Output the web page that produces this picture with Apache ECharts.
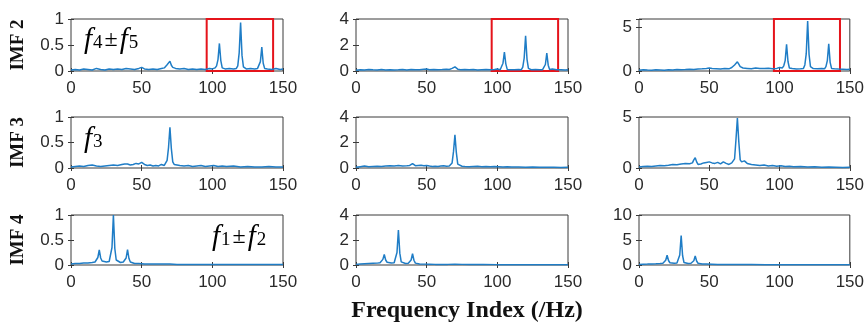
<!DOCTYPE html>
<html>
<head>
<meta charset="utf-8">
<script src="https://cdn.jsdelivr.net/npm/echarts@6/dist/echarts.min.js"></script>
<style>html,body{margin:0;padding:0;background:#fff;}#c{width:867px;height:326px;}</style>
</head>
<body>
<div id="c"></div>
<script>
// Frequency grids (Hz) per row
const freqIMF2 = [0,3,6,9,12,15,18,21,24,27,30,33,36,39,42,45,48,50,52,55,58,61,64,66,68,69,70,71,72,74,77,80,83,86,89,92,95,98,100,102,103,104,105,106,107,109,112,115,117,118,119,120,121,122,124,127,130,132,133,134,135,136,137,139,142,145,148,150];
const freqIMF3 = [0,3,6,9,12,15,18,21,24,27,30,33,36,38,39,40,41,42,44,46,48,50,52,54,56,58,60,62,64,66,67,68,69,70,71,72,73,75,77,80,83,86,89,92,95,98,101,104,107,110,115,120,125,130,135,140,145,150];
const freqIMF4 = [0,3,6,9,12,15,17,18,19,20,21,22,23,25,27,28,29,30,31,32,33,35,37,38,39,40,41,42,43,45,48,52,56,60,65,70,75,80,90,100,110,120,130,140,150];

// Spectrum amplitudes
const imf2a = [0.02,0.03,0.02,0.04,0.03,0.02,0.05,0.03,0.02,0.04, 0.03,0.04,0.03,0.05,0.04,0.03,0.05,0.07,0.04,0.03, 0.04,0.03,0.05,0.06,0.12,0.10,0.19,0.11,0.07,0.05, 0.04,0.05,0.03,0.04,0.03,0.04,0.03,0.05,0.04,0.06, 0.10,0.22,0.53,0.20,0.06,0.04,0.05,0.04,0.05,0.10, 0.35,0.93,0.30,0.08,0.04,0.05,0.04,0.05,0.08,0.18, 0.46,0.15,0.05,0.04,0.03,0.05,0.03,0.04];
const imf2b = [0.05,0.10,0.08,0.12,0.09,0.07,0.11,0.08,0.10,0.07, 0.09,0.12,0.08,0.11,0.10,0.09,0.13,0.15,0.10,0.12, 0.09,0.11,0.14,0.12,0.20,0.18,0.32,0.20,0.14,0.10, 0.12,0.09,0.11,0.08,0.10,0.12,0.09,0.11,0.15,0.10, 0.25,0.60,1.46,0.55,0.12,0.10,0.09,0.11,0.10,0.30, 1.00,2.70,0.90,0.20,0.10,0.12,0.09,0.10,0.20,0.50, 1.38,0.45,0.12,0.15,0.09,0.10,0.08,0.10];
const imf2c = [0.10,0.15,0.12,0.10,0.14,0.12,0.10,0.15,0.12,0.18, 0.14,0.16,0.20,0.18,0.22,0.25,0.30,0.35,0.28,0.25, 0.22,0.30,0.25,0.40,0.70,0.85,1.06,0.80,0.50,0.35, 0.30,0.25,0.35,0.28,0.30,0.32,0.25,0.30,0.40,0.35, 0.60,1.20,3.07,1.10,0.35,0.28,0.22,0.25,0.30,0.70, 2.00,5.76,1.90,0.50,0.28,0.25,0.30,0.25,0.50,1.20, 3.15,1.00,0.30,0.25,0.22,0.20,0.18,0.20];

const imf3a = [0.02,0.03,0.04,0.03,0.05,0.06,0.04,0.03,0.04,0.05, 0.06,0.05,0.07,0.08,0.11,0.08,0.10,0.06,0.07,0.09, 0.08,0.11,0.07,0.05,0.06,0.04,0.05,0.04,0.07,0.05, 0.08,0.15,0.40,0.80,0.38,0.12,0.07,0.06,0.05,0.04, 0.05,0.03,0.04,0.05,0.03,0.04,0.05,0.03,0.04,0.03, 0.04,0.02,0.03,0.02,0.02,0.03,0.02,0.02];
const imf3b = [0.05,0.10,0.15,0.10,0.12,0.14,0.12,0.15,0.18,0.15, 0.20,0.16,0.18,0.20,0.28,0.35,0.22,0.18,0.20,0.22, 0.18,0.20,0.15,0.12,0.14,0.12,0.15,0.18,0.14,0.16, 0.20,0.40,1.30,2.60,1.20,0.30,0.15,0.14,0.12,0.10, 0.12,0.14,0.10,0.12,0.09,0.11,0.10,0.08,0.10,0.07, 0.08,0.06,0.07,0.05,0.06,0.05,0.04,0.05];
const imf3c = [0.10,0.15,0.18,0.15,0.20,0.25,0.22,0.28,0.35,0.32, 0.40,0.45,0.42,0.50,0.80,1.00,0.60,0.35,0.40,0.50, 0.55,0.60,0.50,0.45,0.55,0.40,0.60,0.45,0.35,0.50, 0.60,0.90,2.80,4.90,2.60,0.80,0.60,0.70,0.45,0.35, 0.30,0.25,0.30,0.20,0.25,0.18,0.22,0.15,0.18,0.12, 0.15,0.10,0.12,0.08,0.10,0.08,0.06,0.08];

const imf4a = [0.02,0.03,0.03,0.04,0.04,0.05,0.06,0.08,0.15,0.30, 0.14,0.08,0.07,0.06,0.07,0.10,0.35,1.00,0.33,0.10, 0.06,0.05,0.06,0.08,0.14,0.31,0.13,0.06,0.04,0.03, 0.03,0.02,0.02,0.02,0.02,0.02,0.01,0.01,0.01,0.01, 0.01,0.01,0.01,0.01,0.01];
const imf4b = [0.05,0.08,0.10,0.12,0.14,0.15,0.18,0.25,0.45,0.84, 0.40,0.22,0.20,0.16,0.18,0.30,1.00,2.80,0.95,0.25, 0.15,0.12,0.14,0.22,0.40,0.90,0.38,0.15,0.10,0.08, 0.07,0.06,0.05,0.05,0.05,0.06,0.05,0.04,0.04,0.03, 0.03,0.03,0.03,0.03,0.03];
const imf4c = [0.10,0.15,0.18,0.22,0.25,0.30,0.35,0.50,0.95,1.96, 0.90,0.45,0.40,0.35,0.40,0.70,2.00,5.90,1.90,0.50, 0.35,0.30,0.35,0.50,0.85,1.80,0.80,0.35,0.25,0.20, 0.18,0.15,0.12,0.12,0.10,0.10,0.08,0.08,0.07,0.06, 0.06,0.05,0.05,0.05,0.05];

// Axis settings
const rowLabels = ['IMF 2', 'IMF 3', 'IMF 4'];
const yMaxes = [[1, 4, 6], [1, 4, 5], [1, 4, 10]];
const ySteps = [[0.5, 2, 5], [0.5, 2, 5], [0.5, 2, 5]];
const xMin = 0, xMax = 150, xStep = 50;
const boxRange = [96, 143];
const xTitle = 'Frequency Index (/Hz)';

const freqs = [freqIMF2, freqIMF3, freqIMF4];
const amps = [[imf2a, imf2b, imf2c], [imf3a, imf3b, imf3c], [imf4a, imf4b, imf4c]];

// Layout
const lefts = [71, 356, 639], widths = [212, 212, 214];
const tops = [19, 117, 215], heights = [52, 51, 50];

const ink = '#2a2a2a';
const lineColor = '#1f7dc6';
const grids = [], xAxes = [], yAxes = [], series = [];
let g = 0;
for (let r = 0; r < 3; r++) {
  for (let c = 0; c < 3; c++) {
    grids.push({left: lefts[c], top: tops[r], width: widths[c], height: heights[r],
      show: true, borderColor: '#3a3a3a', borderWidth: 1, containLabel: false});
    const ymax = yMaxes[r][c], ystep = ySteps[r][c];
    const tickBase = {show: true, inside: true, length: 3, lineStyle: {color: '#3a3a3a'}};
    xAxes.push({type: 'value', gridIndex: g, min: xMin, max: xMax, interval: xStep, position: 'bottom',
      axisLine: {show: false}, axisTick: tickBase, splitLine: {show: false},
      axisLabel: {color: ink, fontSize: 17, fontFamily: 'Liberation Sans', margin: 9}});
    xAxes.push({type: 'value', gridIndex: g, min: xMin, max: xMax, interval: xStep, position: 'top',
      axisLine: {show: false}, axisTick: tickBase, splitLine: {show: false}, axisLabel: {show: false}});
    yAxes.push({type: 'value', gridIndex: g, min: 0, max: ymax, interval: ystep, position: 'left',
      axisLine: {show: false}, axisTick: tickBase, splitLine: {show: false},
      axisLabel: {color: ink, fontSize: 17, fontFamily: 'Liberation Sans', margin: 7,
        formatter: v => (Math.abs(v / ystep - Math.round(v / ystep)) < 1e-6 ? String(v) : '')}});
    yAxes.push({type: 'value', gridIndex: g, min: 0, max: ymax, interval: ystep, position: 'right',
      axisLine: {show: false}, axisTick: tickBase, splitLine: {show: false}, axisLabel: {show: false}});
    const s = {type: 'line', xAxisIndex: 2 * g, yAxisIndex: 2 * g, showSymbol: false, symbol: 'none',
      data: freqs[r].map((f, i) => [f, amps[r][c][i]]),
      lineStyle: {color: lineColor, width: 1.5}, silent: true, animation: false};
    if (r === 0) {
      s.markArea = {silent: true,
        itemStyle: {color: 'rgba(0,0,0,0)', borderColor: '#e5141b', borderWidth: 2},
        data: [[{xAxis: boxRange[0]}, {xAxis: boxRange[1]}]]};
    }
    series.push(s);
    g++;
  }
}

const graphic = [];
rowLabels.forEach((t, r) => {
  graphic.push({type: 'text', x: 18, y: tops[r] + heights[r] / 2, rotation: Math.PI / 2,
    style: {text: t, font: 'bold 19px "Liberation Serif"', fill: '#111', textAlign: 'center', textVerticalAlign: 'middle'}});
});
graphic.push({type: 'text', x: 467, y: 311,
  style: {text: xTitle, font: 'bold 24px "Liberation Serif"', fill: '#111', textAlign: 'center', textVerticalAlign: 'middle'}});

const rich = {
  i: {fontFamily: 'Liberation Serif', fontStyle: 'italic', fontSize: 29, color: '#111'},
  s: {fontFamily: 'Liberation Serif', fontSize: 19, color: '#111', padding: [6, 0, 0, 1]},
  p: {fontFamily: 'Liberation Serif', fontSize: 24, color: '#111', padding: [0, 2, 0, 2]}
};
const annots = [
  {x: 84, y: 40, text: '{i|f}{s|4}{p|±}{i|f}{s|5}'},
  {x: 84, y: 139, text: '{i|f}{s|3}'},
  {x: 212, y: 237, text: '{i|f}{s|1}{p|±}{i|f}{s|2}'}
];
annots.forEach(a => {
  graphic.push({type: 'text', x: a.x, y: a.y,
    style: {text: a.text, rich: rich, textAlign: 'left', textVerticalAlign: 'middle'}});
});

const chart = echarts.init(document.getElementById('c'), null, {renderer: 'canvas'});
chart.setOption({animation: false, grid: grids, xAxis: xAxes, yAxis: yAxes, series: series, graphic: graphic});
</script>
</body>
</html>
